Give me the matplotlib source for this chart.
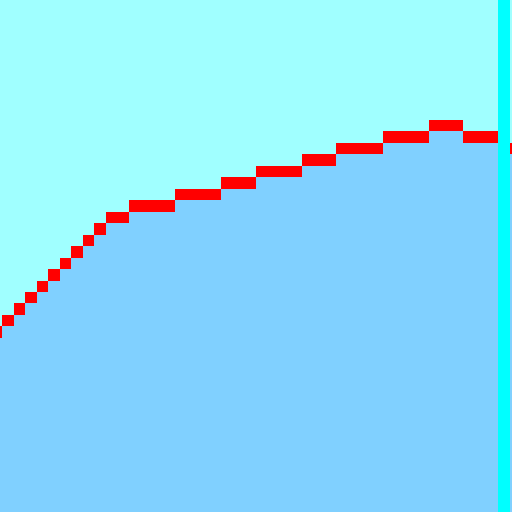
import numpy as np
import matplotlib
matplotlib.use("Agg")
import matplotlib.pyplot as plt
from matplotlib.colors import ListedColormap

# row index of the red cell in each column (0 = peak row), None = cyan strip
curve_rows = [18, 17, 16, 15, 14, 13, 12, 11, 10, 9, 8, 8,
              7, 7, 7, 7, 6, 6, 6, 6, 5, 5, 5,
              4, 4, 4, 4, 3, 3, 3, 2, 2, 2, 2,
              1, 1, 1, 1, 0, 0, 0, 1, 1, 1, None, 2]

colors = ["#A0FFFF", "#FF0000", "#80D0FF", "#00FFFF"]

# grid geometry in pixels
cell_w = 11.535
cell_h = 11.47
x0 = 2 - cell_w      # left edge of first (partial) column
y0 = 120             # top edge of row 0
row_min, row_max = -11, 34

rows = np.arange(row_min, row_max + 1)
grid = np.zeros((len(rows), len(curve_rows)), dtype=int)
for c, red in enumerate(curve_rows):
    if red is None:
        grid[:, c] = 3
        continue
    grid[rows == red, c] = 1
    grid[rows > red, c] = 2

fig = plt.figure(figsize=(5.12, 5.12), dpi=100)
ax = fig.add_axes([0, 0, 1, 1])
left = x0
right = x0 + len(curve_rows) * cell_w
top = y0 + row_min * cell_h
bottom = y0 + (row_max + 1) * cell_h
ax.imshow(grid, cmap=ListedColormap(colors), vmin=0, vmax=3,
          interpolation="nearest", extent=[left, right, bottom, top],
          aspect="auto")
ax.set_xlim(0, 512)
ax.set_ylim(512, 0)
ax.axis("off")
fig.savefig("out.png", dpi=100)
